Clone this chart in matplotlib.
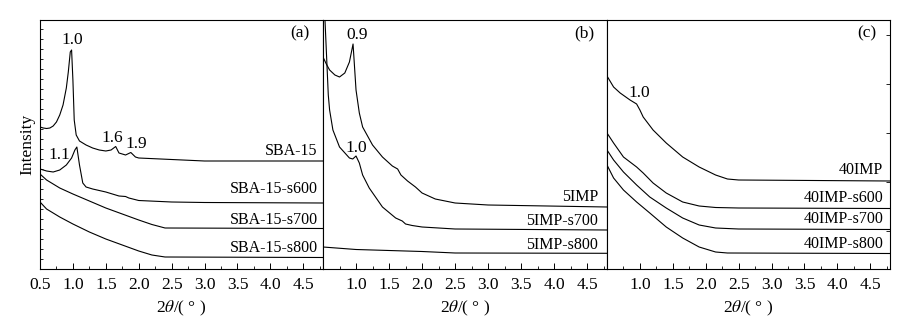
import numpy as np
import matplotlib.pyplot as plt
from matplotlib.ticker import MultipleLocator, FixedLocator

plt.rcParams['font.family'] = ['Liberation Serif', 'DejaVu Serif']
plt.rcParams['mathtext.fontset'] = 'stix'

# ---- data (intensity in arbitrary units) ----
# panel (a)
sba_x = [0.5, 0.55, 0.6, 0.65, 0.7, 0.75, 0.8, 0.85, 0.9, 0.93, 0.96, 0.98, 1.0, 1.02, 1.05,
         1.1, 1.2, 1.3, 1.4, 1.5, 1.58, 1.65, 1.7, 1.8, 1.88, 1.95, 2.0, 2.5, 3.0, 4.0, 4.8]
sba_y = [142, 141, 140.5, 141, 143, 147, 154, 164, 181, 197, 217, 219, 189, 149, 134,
         128, 124, 121, 119, 118, 119, 122.5, 116, 114, 116.5, 112, 111, 109.5, 108, 108, 108]
s600_x = [0.5, 0.6, 0.7, 0.8, 0.9, 0.98, 1.03, 1.06, 1.1, 1.15, 1.2, 1.3, 1.5, 1.7, 1.8,
          1.85, 2.0, 2.5, 3.0, 4.8]
s600_y = [100, 98, 97, 99, 104, 111, 119, 122, 104, 86, 82, 80, 77, 73, 72.5,
          71, 68.5, 67, 66.5, 66]
s700_x = [0.5, 0.6, 0.8, 1.0, 1.25, 1.5, 1.75, 2.0, 2.2, 2.4, 4.8]
s700_y = [95, 89, 81, 75, 68, 61, 55, 49, 44.5, 41, 40.5]
s800_x = [0.5, 0.6, 0.8, 1.0, 1.25, 1.5, 1.75, 2.0, 2.2, 2.4, 4.8]
s800_y = [67, 60, 52, 45, 37, 30, 24, 18, 14, 12, 11.5]

# panel (b)
imp5_x = [0.5, 0.55, 0.6, 0.68, 0.75, 0.83, 0.9, 0.955, 1.0, 1.05, 1.1, 1.25, 1.4, 1.55,
          1.63, 1.68, 1.78, 1.9, 2.0, 2.2, 2.5, 3.0, 4.8]
imp5_y = [212, 205, 199, 194, 192, 196, 207, 225, 179, 156, 142, 124, 112, 103,
          100, 94, 88, 82, 76, 70, 66, 64, 62]
imp5_700_x = [0.5, 0.53, 0.55, 0.58, 0.6, 0.65, 0.75, 0.9, 0.95, 1.0, 1.05, 1.1, 1.2, 1.4,
              1.6, 1.7, 1.75, 1.85, 2.0, 2.5, 4.8]
imp5_700_y = [299, 249, 219, 174, 159, 139, 122, 111, 110, 113, 106, 94, 81, 62,
              51, 48, 45, 43.5, 42, 40, 39]
imp5_800_x = [0.5, 1.0, 2.0, 2.5, 4.8]
imp5_800_y = [22, 19.5, 17.5, 16, 15.7]

# panel (c)
imp40_x = [0.5, 0.6, 0.7, 0.85, 0.95, 1.0, 1.05, 1.2, 1.4, 1.65, 1.9, 2.15, 2.33, 2.5, 4.8]
imp40_y = [193, 182, 176, 169, 165, 159, 152, 139, 126, 112, 102, 94, 90, 89, 88]
imp40_600_x = [0.5, 0.6, 0.75, 0.95, 1.05, 1.2, 1.4, 1.65, 1.9, 2.15, 2.5, 4.8]
imp40_600_y = [136, 126, 112, 102, 96, 86, 76, 67, 63, 61.5, 61, 60.5]
imp40_700_x = [0.5, 0.6, 0.75, 0.95, 1.15, 1.4, 1.65, 1.9, 2.15, 2.5, 4.8]
imp40_700_y = [119, 109, 97, 84, 72, 61, 51, 44, 41, 40, 39.5]
imp40_800_x = [0.5, 0.6, 0.75, 0.95, 1.15, 1.4, 1.65, 1.9, 2.15, 2.33, 4.8]
imp40_800_y = [104, 91, 79, 67, 56, 42, 31, 22, 17, 16, 15.5]

panels = [
    [(sba_x, sba_y), (s600_x, s600_y), (s700_x, s700_y), (s800_x, s800_y)],
    [(imp5_x, imp5_y), (imp5_700_x, imp5_700_y), (imp5_800_x, imp5_800_y)],
    [(imp40_x, imp40_y), (imp40_600_x, imp40_600_y), (imp40_700_x, imp40_700_y),
     (imp40_800_x, imp40_800_y)],
]
names = [
    ["SBA-15", "SBA-15-s600", "SBA-15-s700", "SBA-15-s800"],
    ["5IMP", "5IMP-s700", "5IMP-s800"],
    ["40IMP", "40IMP-s600", "40IMP-s700", "40IMP-s800"],
]
name_y = [[118, 80, 49, 21], [72, 48, 24], [99, 71, 50, 25]]
name_x = [4.72, 4.67, 4.70]
letters = ["(a)", "(b)", "(c)"]
peaks = [
    [("1.0", 0.985, 229), ("1.6", 1.6, 131), ("1.9", 1.97, 125), ("1.1", 0.8, 114)],
    [("0.9", 1.01, 234), ("1.0", 1.01, 121)],
    [("1.0", 0.99, 176)],
]
xticks = [0.5, 1.0, 1.5, 2.0, 2.5, 3.0, 3.5, 4.0, 4.5]

fig = plt.figure(figsize=(9.07, 3.25), dpi=100)
lefts = [40, 323, 607]
rights = [323, 607, 890]
axes = []
for k in range(3):
    ax = fig.add_axes([lefts[k] / 907, 1 - 269 / 325, (rights[k] - lefts[k]) / 907, 249 / 325])
    axes.append(ax)
    for (x, y) in panels[k]:
        ax.plot(x, y, color='black', lw=0.8)
    ax.set_xlim(0.5, 4.8)
    ax.set_ylim(0, 249)
    for nm, yy in zip(names[k], name_y[k]):
        ax.text(name_x[k], yy, nm, ha='right', va='center', fontsize=11.5)
    for lab, px, py in peaks[k]:
        ax.text(px, py, lab, ha='center', va='center', fontsize=12.5)
    ax.text(4.45, 236, letters[k], ha='center', va='center', fontsize=12.5)
    ax.xaxis.set_major_locator(FixedLocator(xticks))
    ax.xaxis.set_minor_locator(MultipleLocator(0.25))
    ax.tick_params(axis='x', which='major', direction='in', length=4, width=0.7, labelsize=12.5, pad=6)
    ax.tick_params(axis='x', which='minor', direction='in', length=2, width=0.6)
    if k > 0:
        ax.set_xticklabels([""] + [f"{v:.1f}" for v in xticks[1:]])
    else:
        ax.set_xticklabels([f"{v:.1f}" for v in xticks])
    ax.set_xlabel(r"2$\mathit{\theta}$/( ° )", fontsize=12.5, labelpad=4)
    ax.set_yticks([])
    for s in ax.spines.values():
        s.set_linewidth(0.8)

# y ticks: minor on left of (a), major on right of (c)
axes[0].yaxis.set_minor_locator(MultipleLocator(10))
axes[0].tick_params(axis='y', which='minor', direction='in', length=2, width=0.6, left=True)
axes[0].set_ylabel("Intensity", fontsize=12.5, labelpad=0)
axes[2].yaxis.set_major_locator(FixedLocator([38, 87, 136, 185, 234]))
axes[2].tick_params(axis='y', which='major', direction='in', length=3, width=0.6,
                    left=False, right=True, labelleft=False)

fig.savefig("out.png", dpi=100)
